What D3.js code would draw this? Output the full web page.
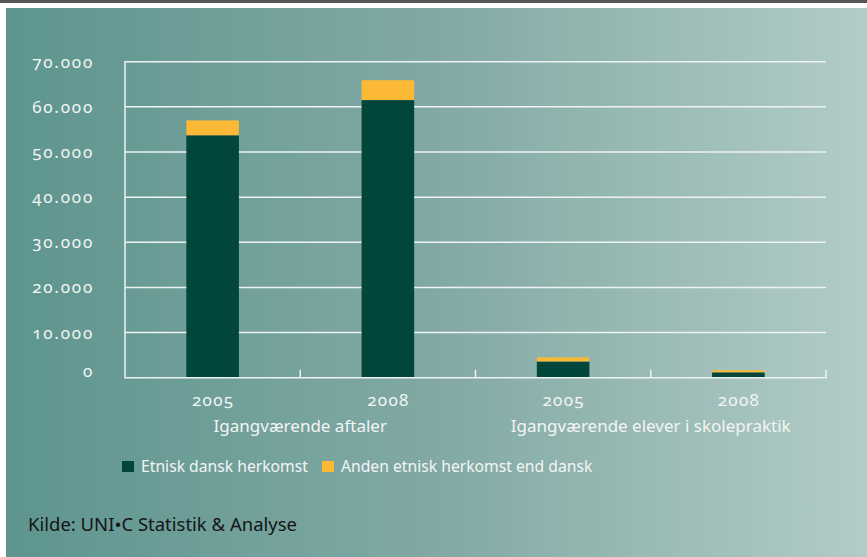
<!DOCTYPE html>
<html>
<head>
<meta charset="utf-8">
<script src="https://cdn.jsdelivr.net/npm/d3@7"></script>
<style>
  html, body { margin: 0; padding: 0; background: #ffffff; }
  svg { display: block; }
  text { font-family: "Noto Sans", "Open Sans", sans-serif; font-variant-numeric: oldstyle-nums; }
</style>
</head>
<body>
<svg id="chart" width="867" height="557"></svg>
<script>
// ---- data ----
const years = ["2005", "2008", "2005", "2008"];
const groups = ["Igangværende aftaler", "Igangværende elever i skolepraktik"];
const etniskDansk = [53700, 61500, 3600, 1200];
const andenEtnisk = [3300, 4400, 900, 450];
const seriesNames = ["Etnisk dansk herkomst", "Anden etnisk herkomst end dansk"];
const yTicks = [0, 10000, 20000, 30000, 40000, 50000, 60000, 70000];
const source = "Kilde: UNI•C Statistik & Analyse";

const colors = ["#01453b", "#fbb935"];

(function () {
const svg = d3.select("#chart");
const W = 867, H = 557;

// background
svg.append("rect").attr("x", 0).attr("y", 0).attr("width", W).attr("height", H).attr("fill", "#ffffff");
svg.append("rect").attr("x", 0).attr("y", 0).attr("width", W).attr("height", 3).attr("fill", "#555555");
const defs = svg.append("defs");
const grad = defs.append("linearGradient").attr("id", "bg").attr("x1", "0%").attr("x2", "100%").attr("y1", "0%").attr("y2", "0%");
grad.append("stop").attr("offset", "0%").attr("stop-color", "#5e958f");
grad.append("stop").attr("offset", "50%").attr("stop-color", "#82a9a4");
grad.append("stop").attr("offset", "100%").attr("stop-color", "#b2ccc7");
svg.append("rect").attr("x", 6).attr("y", 8).attr("width", W - 6).attr("height", H - 8).attr("fill", "url(#bg)");

// scales
const pLeft = 125, pRight = 826, pTop = 61.7, pBottom = 377.7;
const keys = d3.range(years.length);
const x = d3.scaleBand().domain(keys).range([pLeft, pRight]).paddingInner(0.7).paddingOuter(0.35);
const xGroup = d3.scaleBand().domain(groups).range([pLeft, pRight]);
const y = d3.scaleLinear().domain([0, 70000]).range([pBottom, pTop]);

// gridlines
svg.append("g").selectAll("line").data(yTicks.filter(d => d > 0)).join("line")
  .attr("x1", pLeft).attr("x2", pRight)
  .attr("y1", d => y(d)).attr("y2", d => y(d))
  .attr("stroke", "#eef3f2").attr("stroke-width", 1.5);

// y axis labels
const yAxis = d3.axisLeft(y).tickValues(yTicks).tickSize(0).tickPadding(0)
  .tickFormat(d => d3.format(",")(d).replace(/,/g, "."));
const gy = svg.append("g").attr("transform", `translate(94,0)`).call(yAxis);
gy.select(".domain").remove();
gy.selectAll("text").attr("fill", "#f2f5f4").attr("font-size", 17)
  .attr("font-family", null)
  .attr("letter-spacing", "1.8px")
  .attr("dy", d => d === 0 ? "-0.05em" : "0.32em");

// bars
const table = keys.map(i => ({ i, a: etniskDansk[i], b: andenEtnisk[i] }));
const stack = d3.stack().keys(["a", "b"])(table);
svg.append("g").selectAll("g").data(stack).join("g")
  .attr("fill", (d, k) => colors[k])
  .selectAll("rect").data(d => d).join("rect")
  .attr("x", d => x(d.data.i))
  .attr("width", x.bandwidth())
  .attr("y", d => y(d[1]))
  .attr("height", d => y(d[0]) - y(d[1]));

// axes lines
svg.append("line").attr("x1", pLeft).attr("x2", pLeft).attr("y1", pTop - 0.5).attr("y2", pBottom + 0.5)
  .attr("stroke", "#eef3f2").attr("stroke-width", 1.5);
svg.append("line").attr("x1", pLeft).attr("x2", pRight + 0.5).attr("y1", pBottom).attr("y2", pBottom)
  .attr("stroke", "#eef3f2").attr("stroke-width", 1.5);
// category ticks (between bars)
const tickXs = keys.map(i => x(i) + x.bandwidth() / 2 + x.step() / 2);
svg.append("g").selectAll("line").data(tickXs).join("line")
  .attr("x1", d => d).attr("x2", d => d)
  .attr("y1", pBottom - 8).attr("y2", pBottom)
  .attr("stroke", "#eef3f2").attr("stroke-width", 1.5);

// year labels
svg.append("g").selectAll("text").data(keys).join("text")
  .attr("x", i => x(i) + x.bandwidth() / 2 + 0.6)
  .attr("y", 406)
  .attr("text-anchor", "middle")
  .attr("letter-spacing", "1.3px")
  .attr("fill", "#f2f5f4").attr("font-size", 17)
  .text(i => years[i]);

// group labels
svg.append("g").selectAll("text").data(groups).join("text")
  .attr("x", g => xGroup(g) + xGroup.bandwidth() / 2)
  .attr("y", 432)
  .attr("text-anchor", "middle")
  .attr("fill", "#f2f5f4").attr("font-size", 17)
  .text(g => g);

// legend
const legendX = [122, 322];
const lg = svg.append("g").selectAll("g").data(seriesNames).join("g")
  .attr("transform", (d, k) => `translate(${legendX[k]},461)`);
lg.append("rect").attr("width", 12).attr("height", 11).attr("fill", (d, k) => colors[k]);
lg.append("text").attr("x", 19).attr("y", 11).attr("fill", "#f2f5f4").attr("font-size", 15.7).text(d => d);

// source
svg.append("text").attr("x", 28).attr("y", 531).attr("fill", "#151515").attr("font-size", 18.5).text(source);
})();
</script>
</body>
</html>
